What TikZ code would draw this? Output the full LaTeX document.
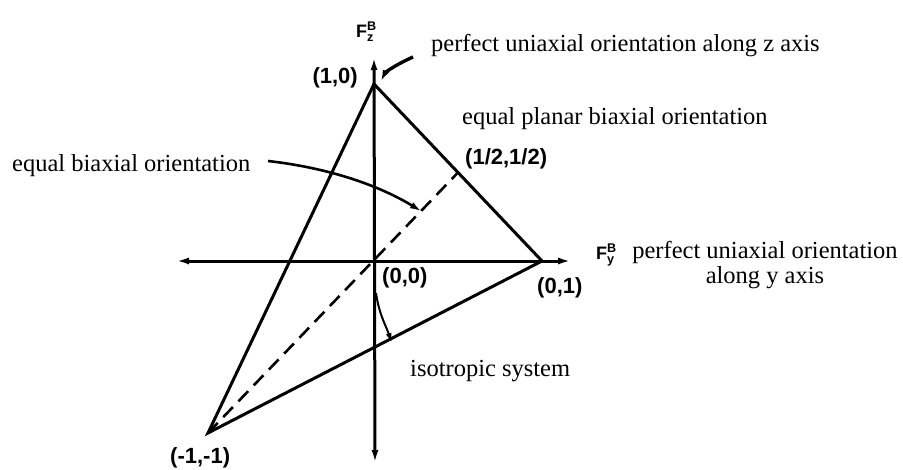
\documentclass[tikz,border=0pt]{standalone}
\usepackage{amsmath}
\usepackage{fontspec}
\setmainfont{Liberation Serif}
\newfontfamily\labelfont{Liberation Sans}
\usetikzlibrary{arrows.meta}
\tikzset{
  axis/.style={{Latex[length=13pt,width=7pt]}-{Latex[length=13pt,width=7pt]},line width=3pt},
  edge/.style={line width=3pt},
  diag/.style={line width=2.6pt,dash pattern=on 14pt off 8pt},
  pointer/.style={-{Latex[length=11pt,width=7pt]},line width=2.6pt},
  thinpointer/.style={-{Latex[length=10pt,width=6pt]},line width=2pt},
  desc/.style={font=\fontsize{24.5}{25}\selectfont,inner sep=0pt},
  coord/.style={font=\labelfont\bfseries\fontsize{22}{24}\selectfont,inner sep=0pt},
  axlabel/.style={font=\labelfont\bfseries\fontsize{18}{20}\selectfont,inner sep=0pt}
}
\begin{document}
\begin{tikzpicture}[x=1pt,y=-1pt]
  \useasboundingbox (0,0) rectangle (903,469);
  % corners of the triangle
  \coordinate (A) at (374,84);
  \coordinate (C) at (542,261);
  \coordinate (D) at (208,433);
  \coordinate (O) at (374,261);
  \coordinate (M) at (458,172.5);
  % axis ends
  \coordinate (ztop) at (374,57);
  \coordinate (zbot) at (375,463);
  \coordinate (yleft) at (176,261);
  \coordinate (yright) at (571,261);
  \draw[axis] (zbot) -- (ztop);
  \draw[axis] (yleft) -- (yright);
  \draw[edge] (A) -- (C) -- (D) -- cycle;
  \draw[diag] (D) -- (M);
  % axis labels
  \node[axlabel,anchor=base west] (fz) at (356,37) {F$^{\text{B}}_{\text{z}}$};
  \node[axlabel,anchor=base west] (fy) at (596,259) {F$^{\text{B}}_{\text{y}}$};
  % corner labels
  \node[coord,anchor=base east] (lA) at (358,83) {(1,0)};
  \node[coord,anchor=base west] (lO) at (382,283) {(0,0)};
  \node[coord,anchor=base west] (lC) at (537,293) {(0,1)};
  \node[coord,anchor=base west] (lD) at (170,463) {(-1,-1)};
  \node[coord,anchor=base west] (lM) at (465,164) {(1/2,1/2)};
  % descriptions
  \node[desc,anchor=base west] (uz) at (431,51) {perfect uniaxial orientation along z axis};
  \node[desc,anchor=base west] (epb) at (462,124) {equal planar biaxial orientation};
  \node[desc,anchor=base west] (eb) at (12,171) {equal biaxial orientation};
  \node[desc,anchor=north,align=center] (uy) at (765,241) {perfect uniaxial orientation\\along y axis};
  \node[desc,anchor=base west] (iso) at (410,376) {isotropic system};
  % pointers
  \coordinate (uzfrom) at (413,57);
  \coordinate (uzto) at (381,81);
  \coordinate (ebfrom) at (268,161);
  \coordinate (ebto) at (421,211);
  \coordinate (isofrom) at (376,293);
  \coordinate (isoto) at (392,343);
  \draw[pointer,line width=3.4pt] (uzfrom) .. controls (393,66) and (385,73) .. (uzto);
  \draw[pointer] (ebfrom) .. controls (330,168) and (380,186) .. (ebto);
  \draw[thinpointer] (isofrom) .. controls (379,314) and (386,326) .. (isoto);
\end{tikzpicture}
\end{document}
